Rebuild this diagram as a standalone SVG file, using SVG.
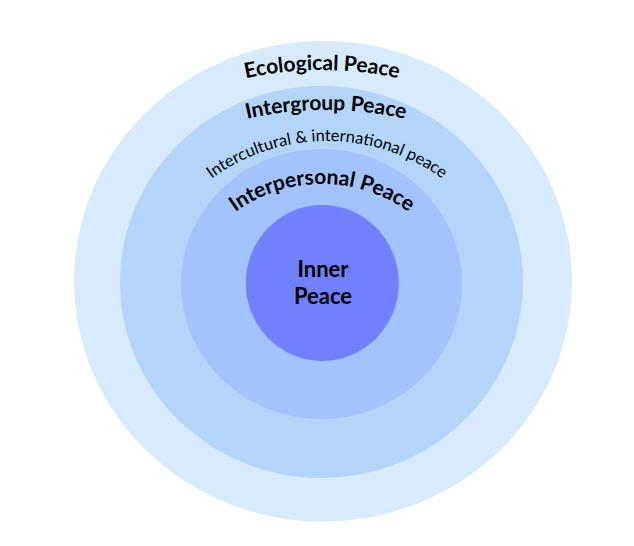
<svg xmlns="http://www.w3.org/2000/svg" xmlns:xlink="http://www.w3.org/1999/xlink" width="634" height="546" viewBox="0 0 634 546">
<style>
.lbl{font-family:Lato,"Noto Sans","Liberation Sans",sans-serif;fill:#000;}
.b{font-weight:bold;}
</style>
<defs>
<path id="arcEco" d="M -31,423 A 353 353 0 0 1 675,423"/>
<path id="arcGroup" d="M -34,470 A 360 360 0 0 1 686,470"/>
<path id="arcCult" d="M 132,336 A 195 195 0 0 1 522,336"/>
<path id="arcPers" d="M 174,332 A 148 148 0 0 1 470,332"/>
</defs>
<rect width="634" height="546" fill="#ffffff"/>
<g id="ecological">
<ellipse cx="323" cy="281.3" rx="249" ry="240.3" fill="#D7EBFC"/>
<text class="lbl b" font-size="21"><textPath href="#arcEco" xlink:href="#arcEco" startOffset="50%" text-anchor="middle">Ecological Peace</textPath></text>
</g>
<g id="intergroup">
<ellipse cx="321.5" cy="282" rx="201.5" ry="196" fill="#B4D5FA"/>
<text class="lbl b" font-size="21"><textPath href="#arcGroup" xlink:href="#arcGroup" startOffset="50%" text-anchor="middle">Intergroup Peace</textPath></text>
<text class="lbl" font-size="16.5"><textPath href="#arcCult" xlink:href="#arcCult" startOffset="50%" text-anchor="middle">Intercultural &amp; international peace</textPath></text>
</g>
<g id="interpersonal">
<ellipse cx="321.5" cy="284" rx="140.5" ry="135" fill="#A2C3FD"/>
<text class="lbl b" font-size="21"><textPath href="#arcPers" xlink:href="#arcPers" startOffset="50%" text-anchor="middle">Interpersonal Peace</textPath></text>
</g>
<g id="inner">
<ellipse cx="322.3" cy="283" rx="76.5" ry="78" fill="#7180FD"/>
<text class="lbl b" font-size="22" text-anchor="middle"><tspan x="323" y="277">Inner</tspan><tspan x="323" y="303.5">Peace</tspan></text>
</g>
</svg>
